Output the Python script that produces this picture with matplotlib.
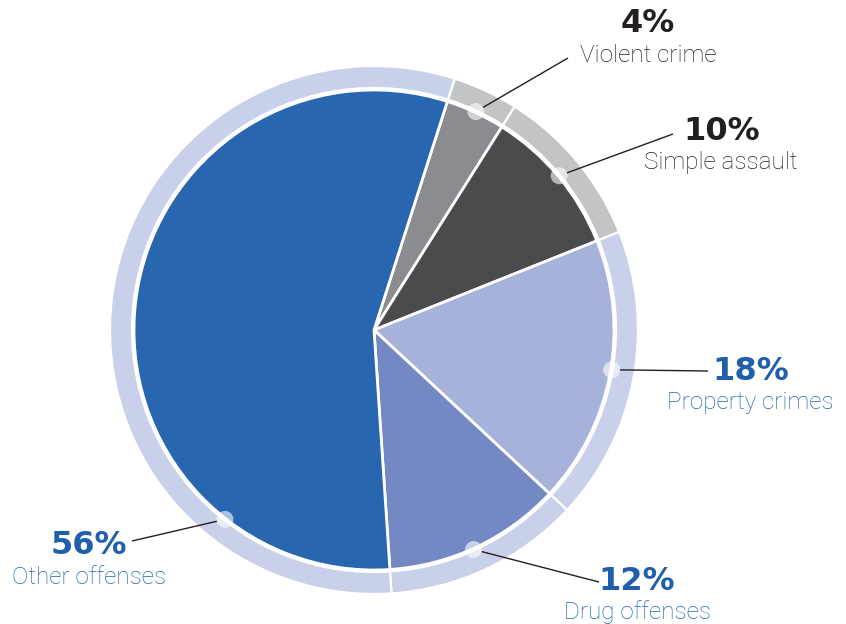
import numpy as np
import matplotlib
matplotlib.use("Agg")
import matplotlib.pyplot as plt
from matplotlib.patches import Circle

categories = ["Violent crime", "Simple assault", "Property crimes", "Drug offenses", "Other offenses"]
values = [4, 10, 18, 12, 56]
pct_labels = ["4%", "10%", "18%", "12%", "56%"]
pie_colors = ["#8b8c8f", "#4a4b4d", "#a7b2da", "#7489c4", "#2866b0"]
ring_colors = ["#c3c4c6", "#c3c4c6", "#c9d0e9", "#c9d0e9", "#c9d0e9"]
text_colors = ["#231f20", "#231f20", "#1f5fad", "#1f5fad", "#1f5fad"]
label_colors = ["#231f20", "#231f20", "#2266b0", "#2266b0", "#2266b0"]
# marker angle (degrees clockwise from top) for each slice
marker_angles = [25.0, 50.2, 99.5, 155.6, 218.2]
# label line end points and text centres (pixel coords, y down)
line_ends = [(568, 58), (673, 134), (708, 371), (599, 582), (132, 541)]
pct_pos = [(648, 24), (722, 131), (751, 371), (637, 581), (89, 546)]
name_pos = [(648, 56), (721, 162), (750, 402), (637, 612), (89, 577)]

W, H = 846, 624
fig = plt.figure(figsize=(W / 100, H / 100), dpi=100)
ax = fig.add_axes([0, 0, 1, 1])

cx, cy = 374, H - 330
start = 72.2

ax.pie(values, startangle=start, counterclock=False, radius=264, center=(cx, cy),
       colors=ring_colors, wedgeprops=dict(width=22, edgecolor="white", linewidth=1.6))
ax.pie(values, startangle=start, counterclock=False, radius=240, center=(cx, cy),
       colors=pie_colors, wedgeprops=dict(edgecolor="white", linewidth=2.0))
ax.set_xlim(0, W)
ax.set_ylim(0, H)
ax.set_aspect("equal")
ax.axis("off")

r_m = 241
for i in range(len(values)):
    a = np.deg2rad(marker_angles[i])
    mx = cx + r_m * np.sin(a)
    my = cy + r_m * np.cos(a)
    ex, ey = line_ends[i][0], H - line_ends[i][1]
    d = np.hypot(ex - mx, ey - my)
    sx = mx + (ex - mx) * 8 / d
    sy = my + (ey - my) * 8 / d
    ax.plot([sx, ex], [sy, ey], color="#231f20", lw=1.0, solid_capstyle="butt", zorder=5)
    ax.add_patch(Circle((mx, my), 8.5, facecolor="white", edgecolor="none", alpha=0.6, zorder=6))
    px, py = pct_pos[i]
    ax.text(px, H - py, pct_labels[i], ha="center", va="center", fontsize=23,
            fontweight="bold", color=text_colors[i], family=["DejaVu Sans"])
    nx, ny = name_pos[i]
    ax.text(nx, H - ny, categories[i], ha="center", va="center", fontsize=17.5,
            fontweight="light", color=label_colors[i], family=["Roboto", "DejaVu Sans"])

fig.savefig("out.png", dpi=100)
